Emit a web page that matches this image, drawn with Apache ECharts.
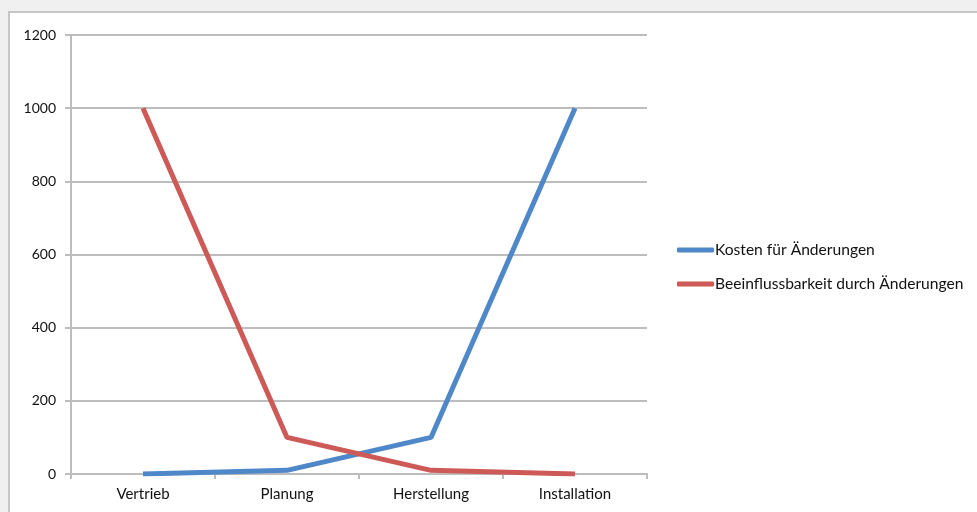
<!DOCTYPE html>
<html>
<head>
<meta charset="utf-8">
<script src="https://cdn.jsdelivr.net/npm/echarts@6/dist/echarts.min.js"></script>
<style>
  html, body { margin: 0; padding: 0; background: #f0f0f0; }
  #chart { width: 977px; height: 512px; }
</style>
</head>
<body>
<div id="chart"></div>
<script>
// Phasen des Projekts
const categories = ['Vertrieb', 'Planung', 'Herstellung', 'Installation'];
// Werte je Phase
const kostenWerte = [0, 10, 100, 1000];
const beeinflussWerte = [1000, 100, 10, 0];
// Skala der Werteachse
const yMin = 0, yMax = 1200, yStep = 200;

const chart = echarts.init(document.getElementById('chart'), null, { renderer: 'canvas' });
const font = 'Lato, "Open Sans", sans-serif';

chart.setOption({
  backgroundColor: '#f0f0f0',
  animation: false,
  graphic: [
    { type: 'rect', shape: { x: 8, y: 11, width: 977, height: 512 }, style: { fill: '#c6c6c6' }, z: -10 },
    { type: 'rect', shape: { x: 10, y: 13, width: 977, height: 512 }, style: { fill: '#ffffff' }, z: -9 }
  ],
  grid: { left: 71, right: 330, top: 35, bottom: 38 },
  legend: {
    orient: 'vertical',
    left: 672,
    top: 237,
    itemWidth: 37,
    itemHeight: 5,
    itemGap: 18,
    icon: 'roundRect',
    textStyle: { fontFamily: font, fontSize: 15.6, color: '#111', padding: [0, 0, 0, -4] },
    data: ['Kosten für Änderungen', 'Beeinflussbarkeit durch Änderungen']
  },
  xAxis: {
    type: 'category',
    data: categories,
    boundaryGap: true,
    axisLine: { lineStyle: { color: '#bdbdbd', width: 2 } },
    axisTick: { show: true, length: 5, lineStyle: { color: '#bdbdbd', width: 2 } },
    axisLabel: { fontFamily: font, fontSize: 15, color: '#111', margin: 13 }
  },
  yAxis: {
    type: 'value',
    min: yMin, max: yMax, interval: yStep,
    axisLine: { show: true, lineStyle: { color: '#bdbdbd', width: 2 } },
    axisTick: { show: true, length: 6, lineStyle: { color: '#bdbdbd', width: 2 } },
    axisLabel: { fontFamily: font, fontSize: 14, color: '#111', margin: 15, formatter: v => String(v) },
    splitLine: { lineStyle: { color: '#bdbdbd', width: 2 } }
  },
  series: [
    {
      name: 'Kosten für Änderungen',
      type: 'line',
      data: kostenWerte,
      symbol: 'none',
      itemStyle: { color: '#4f88c8' },
      lineStyle: { color: '#4f88c8', width: 5 }
    },
    {
      name: 'Beeinflussbarkeit durch Änderungen',
      type: 'line',
      data: beeinflussWerte,
      symbol: 'none',
      itemStyle: { color: '#cd5a56' },
      lineStyle: { color: '#cd5a56', width: 5 }
    }
  ]
});
</script>
</body>
</html>
